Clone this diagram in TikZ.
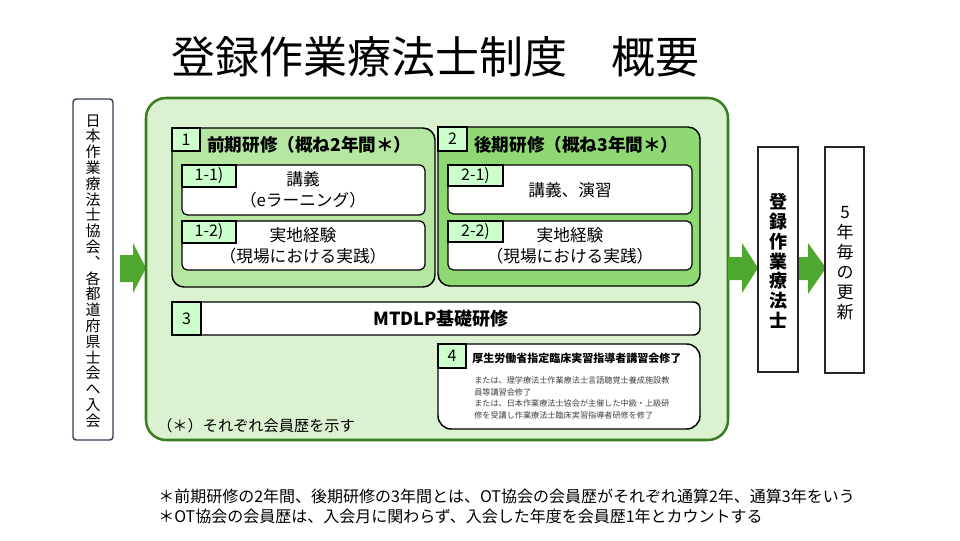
\documentclass[tikz,border=0pt]{standalone}
\usepackage{fontspec}
\setmainfont{Noto Sans CJK JP}
\definecolor{gLight}{HTML}{DAF2D0}
\definecolor{gMid}{HTML}{B5E6A2}
\definecolor{gDark}{HTML}{8ED973}
\definecolor{gBorder}{HTML}{3B7D23}
\definecolor{gArrow}{HTML}{4EA72E}
\definecolor{gLabel}{HTML}{CCFFCC}
\definecolor{navyb}{HTML}{2F3F52}
\definecolor{graytx}{HTML}{404040}
\newcommand\bx[7]{\node[#2, anchor=north west, inner sep=0pt, outer sep=0pt, minimum width={(#5-#3)*0.75pt}, minimum height={(#6-#4)*0.75pt}] (#1) at (#3,#4) {#7};}
\newcommand\fsz[2]{\fontsize{#1}{#2}\selectfont}
\begin{document}
\begin{tikzpicture}[x=0.75pt,y=-0.75pt,
  grpbox/.style={draw=black, line width=1.1pt, rounded corners=9pt},
  subbox/.style={fill=white, draw=black, line width=0.9pt, rounded corners=4pt},
  lblbox/.style={fill=gLabel, draw=black, line width=1.1pt, font=\fsz{12pt}{13pt}},
  sublbl/.style={fill=gLabel, draw=black, line width=0.9pt, font=\fsz{12pt}{13pt}},
  grptitle/.style={anchor=west, inner sep=0pt, font=\bfseries\fsz{13.2pt}{15pt}},
  subtxt/.style={align=center, inner sep=0pt, font=\fsz{12.5pt}{16.1pt}},
  arrowfill/.style={fill=gArrow}
]
\useasboundingbox (0,0) rectangle (960,540);
\fill[white] (0,0) rectangle (960,540);

% title
\node[font=\fsz{33pt}{38pt}] (title) at (435,57) {登録作業療法士制度　概要};

% left box
\bx{join}{fill=white, draw=navyb, line width=1.1pt, rounded corners=2.5pt}{73}{99}{113}{440}{}
\node[align=center, inner sep=0pt, font=\fsz{11.25pt}{11.85pt}] (jointxt) at (93,271)
  {日\\本\\作\\業\\療\\法\\士\\協\\会\\︑\\各\\都\\道\\府\\県\\士\\会\\へ\\入\\会};

% left arrow
\fill[arrowfill] (120,255) -- (133,255) -- (133,243) -- (146,268) -- (133,293) -- (133,282) -- (120,282) -- cycle;

% container
\bx{main}{fill=gLight, draw=gBorder, line width=1.9pt, rounded corners=15pt}{146}{98}{728}{440}{}

% group 1
\bx{b1}{grpbox, fill=gMid}{172}{128}{435}{287}{}
\bx{l1}{lblbox}{172}{128}{200}{151}{1}
\node[grptitle] (t1) at (207,145) {前期研修（概ね2年間＊）};
\bx{s11}{subbox}{182}{165}{425}{215}{}
\bx{l11}{sublbl}{182}{165}{236}{187}{1-1)}
\node[subtxt] (s11txt) at (303,190) {講義\\（eラーニング）};
\bx{s12}{subbox}{182}{221}{425}{270}{}
\bx{l12}{sublbl}{182}{221}{236}{243}{1-2)}
\node[subtxt] (s12txt) at (303,246) {実地経験\\（現場における実践）};

% group 2
\bx{b2}{grpbox, fill=gDark}{438}{127}{700}{286}{}
\bx{l2}{lblbox}{438}{127}{467}{151}{2}
\node[grptitle] (t2) at (474,145) {後期研修（概ね3年間＊）};
\bx{s21}{subbox}{448}{165}{692}{214}{}
\bx{l21}{sublbl}{448}{165}{503}{186}{2-1)}
\node[subtxt] (s21txt) at (570,190) {講義、演習};
\bx{s22}{subbox}{448}{221}{692}{270}{}
\bx{l22}{sublbl}{448}{221}{503}{242}{2-2)}
\node[subtxt] (s22txt) at (570,246) {実地経験\\（現場における実践）};

% box 3
\bx{b3}{fill=white, draw=black, line width=1.1pt, rounded corners=5pt}{172}{302}{700}{335}{}
\bx{l3}{lblbox}{172}{302}{201}{335}{3}
\node[inner sep=0pt, font=\bfseries\fsz{13.5pt}{16pt}] (t3) at (441,319) {MTDLP基礎研修};

% box 4
\bx{b4}{fill=white, draw=black, line width=1.1pt, rounded corners=10pt}{438}{344}{700}{429}{}
\bx{l4}{lblbox}{438}{344}{466}{368}{4}
\node[anchor=west, inner sep=0pt, font=\bfseries\fsz{8.25pt}{10pt}] (t4) at (472,358) {厚生労働省指定臨床実習指導者講習会修了};
\node[anchor=west, align=left, inner sep=0pt, text=graytx, font=\fsz{6.1pt}{8.8pt}] (t4b) at (474,398)
  {または、理学療法士作業療法士言語聴覚士養成施設教\\員等講習会修了\\または、日本作業療法士協会が主催した中級・上級研\\修を受講し作業療法士臨床実習指導者研修を修了};

\node[anchor=west, inner sep=0pt, font=\fsz{11.4pt}{13pt}] (note) at (157,426) {（＊）それぞれ会員歴を示す};

% right arrows
\fill[arrowfill] (728,257) -- (742,257) -- (742,243) -- (758,268) -- (742,293) -- (742,280) -- (728,280) -- cycle;
\fill[arrowfill] (798,257) -- (808,257) -- (808,243) -- (826,268) -- (808,294) -- (808,280) -- (798,280) -- cycle;

% right boxes
\bx{reg}{fill=white, draw=black!85, line width=1.4pt}{758}{147}{798}{372}{}
\node[align=center, inner sep=0pt, font=\bfseries\fsz{13.5pt}{14.8pt}] (regtxt) at (778,261)
  {登\\録\\作\\業\\療\\法\\士};
\bx{renew}{fill=white, draw=black!85, line width=1.4pt}{825}{147}{864}{373}{}
\node[align=center, inner sep=0pt, font=\fsz{12.75pt}{15pt}] (renewtxt) at (845,263)
  {5\\年\\毎\\の\\更\\新};

% footnotes
\node[anchor=west, inner sep=0pt, font=\fsz{12pt}{14pt}] (fn1) at (158,496)
  {＊前期研修の2年間、後期研修の3年間とは、OT協会の会員歴がそれぞれ通算2年、通算3年をいう};
\node[anchor=west, inner sep=0pt, font=\fsz{12pt}{14pt}] (fn2) at (158,516)
  {＊OT協会の会員歴は、入会月に関わらず、入会した年度を会員歴1年とカウントする};
\end{tikzpicture}
\end{document}
